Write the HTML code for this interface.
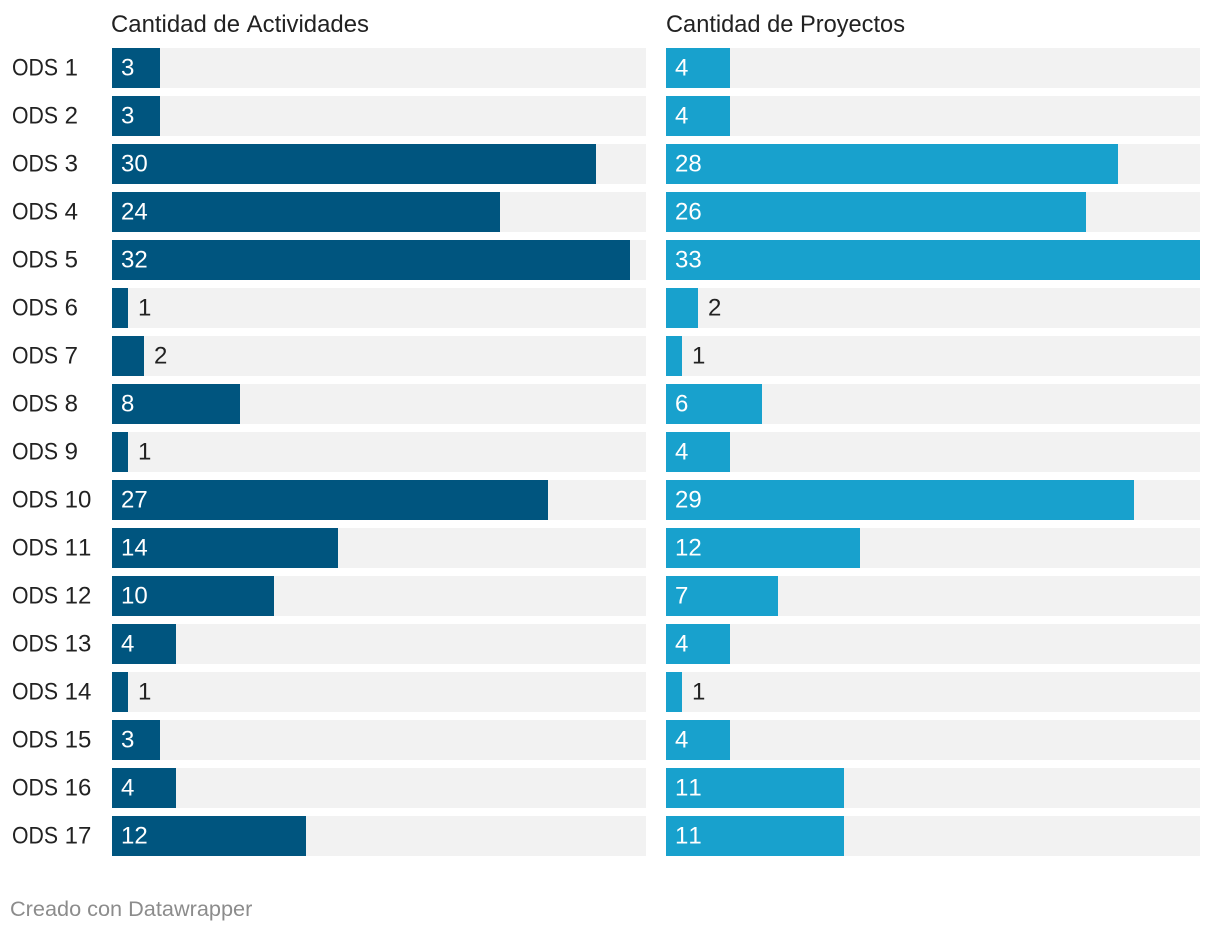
<!DOCTYPE html>
<html lang="es">
<head>
<meta charset="utf-8">
<title>Cantidad de Actividades y Proyectos por ODS</title>
<style>
  html, body { margin: 0; padding: 0; background: #ffffff; }
  svg { display: block; font-family: "Liberation Sans", Arial, sans-serif; font-kerning: none; }
  .col-title { font-size: 24px; fill: #222222; }
  .row-label { font-size: 24px; fill: #222222; }
  .value { font-size: 24px; }
  .footer { font-size: 21.7px; fill: #8c8c8c; }
</style>
</head>
<body>
<svg id="chart" xmlns="http://www.w3.org/2000/svg" width="1220" height="932" viewBox="0 0 1220 932">
  <text class="col-title" x="111" y="32" textLength="258" lengthAdjust="spacingAndGlyphs">Cantidad de Actividades</text>
  <text class="col-title" x="666" y="32" textLength="239" lengthAdjust="spacingAndGlyphs">Cantidad de Proyectos</text>
  <g id="rows"></g>
  <text class="footer" x="10" y="916">Creado con Datawrapper</text>
</svg>
<script>
const categories = ["ODS 1","ODS 2","ODS 3","ODS 4","ODS 5","ODS 6","ODS 7","ODS 8","ODS 9","ODS 10","ODS 11","ODS 12","ODS 13","ODS 14","ODS 15","ODS 16","ODS 17"];
const actividades = [3,3,30,24,32,1,2,8,1,27,14,10,4,1,3,4,12];
const proyectos = [4,4,28,26,33,2,1,6,4,29,12,7,4,1,4,11,11];
const domainMax = 33;

const svgNS = "http://www.w3.org/2000/svg";
const rowsGroup = document.getElementById("rows");

const panelWidth = 534;
const rowTop = 48;
const rowStep = 48;
const rowHeight = 40;

function xScale(v) {
  return Math.floor((v / domainMax) * panelWidth / 2 + 0.1) * 2;
}
function yScale(i) {
  return rowTop + i * rowStep;
}
function makeSvg(tag, attrs) {
  const el = document.createElementNS(svgNS, tag);
  for (const key in attrs) el.setAttribute(key, attrs[key]);
  return el;
}

function drawPanel(values, originX, color, slug) {
  values.forEach(function (value, i) {
    const y = yScale(i);
    const w = xScale(value);

    const track = makeSvg("rect", { x: originX, y: y, width: panelWidth, height: rowHeight, fill: "#f2f2f2" });
    
    
    rowsGroup.appendChild(track);

    const bar = makeSvg("rect", { x: originX, y: y, width: w, height: rowHeight, fill: color });
    
    
    rowsGroup.appendChild(bar);

    const inside = w >= 40;
    const label = makeSvg("text", {
      class: "value",
      x: inside ? originX + 9 : originX + w + 10,
      y: y + 27.5,
      fill: inside ? "#ffffff" : "#222222"
    });
    label.textContent = String(value);
    
    
    rowsGroup.appendChild(label);
  });
}

categories.forEach(function (name, i) {
  const rowLabel = makeSvg("text", { class: "row-label", x: 12, y: yScale(i) + 27.5 });
  const parts = name.split(" ");
  const prefix = makeSvg("tspan", { textLength: 46, lengthAdjust: "spacingAndGlyphs" });
  prefix.textContent = parts[0];
  const suffix = makeSvg("tspan", {});
  suffix.textContent = " " + parts[1];
  rowLabel.appendChild(prefix);
  rowLabel.appendChild(suffix);
  
  
  rowsGroup.appendChild(rowLabel);
});

drawPanel(actividades, 112, "#00557f", "actividades");
drawPanel(proyectos, 666, "#18a1cd", "proyectos");
</script>
</body>
</html>
